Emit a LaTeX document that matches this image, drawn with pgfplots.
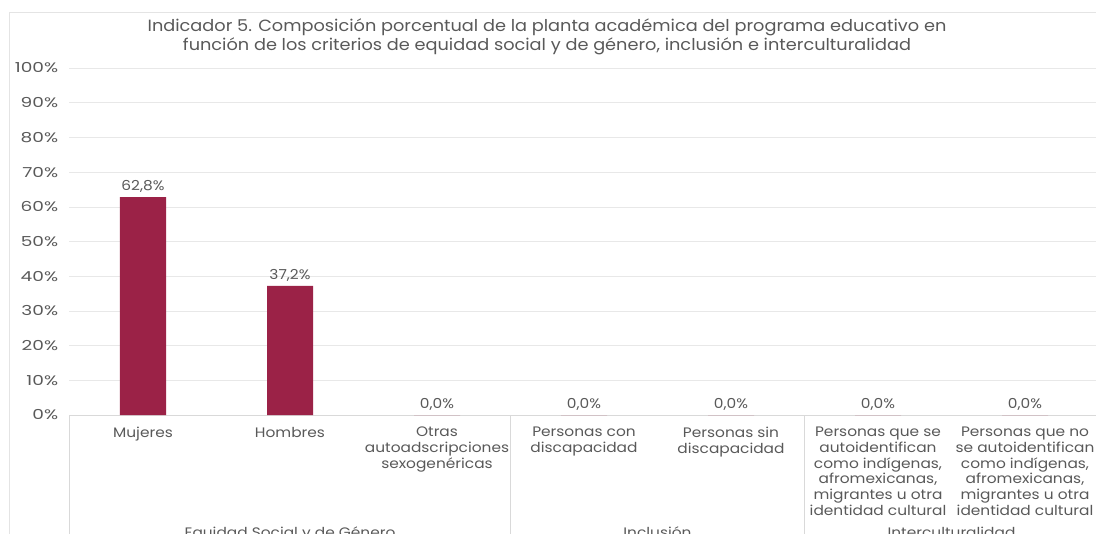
\documentclass[border=0pt]{standalone}
\usepackage{pgfplots}
\pgfplotsset{compat=1.18}
\usepackage{fontspec}
\setmainfont[FakeStretch=1.12]{Poppins}
\newfontfamily\wide[FakeStretch=1.35]{Poppins}
\newfontfamily\ttl[FakeStretch=1.09]{Poppins}
\definecolor{bar}{RGB}{155,34,71}
\definecolor{txt}{RGB}{89,89,89}
\definecolor{gridc}{RGB}{232,232,232}
\definecolor{sepc}{RGB}{217,217,217}
\begin{document}
\begin{tikzpicture}
\useasboundingbox (0pt,0pt) rectangle (822pt,399.75pt);
\clip (0pt,0pt) rectangle (822pt,399.75pt);
\draw[sepc!70] (6.75pt,-20pt) -- (6.75pt,390.75pt) -- (840pt,390.75pt);
\node[font=\ttl\fontsize{12.2}{14}\selectfont, text=txt] at (410.25pt,379.5pt) {Indicador 5. Composición porcentual de la planta académica del programa educativo en};
\node[font=\ttl\fontsize{12.2}{14}\selectfont, text=txt] at (410.25pt,365.25pt) {función de los criterios de equidad social y de género, inclusión e interculturalidad};
\begin{axis}[
  at={(52.125pt,88.5pt)}, anchor=south west,
  scale only axis, width=771.75pt, height=260.25pt,
  xmin=-0.5, xmax=6.5, ymin=0, ymax=100,
  clip=false,
  axis x line*=bottom, axis y line*=left,
  y axis line style={draw=none},
  x axis line style={sepc},
  major tick length=0,
  ytick={0,10,...,100},
  yticklabel={\pgfmathprintnumber{\tick}\%},
  /pgf/number format/assume math mode=true,
  ymajorgrids, grid style={gridc},
  yticklabel style={font=\wide\fontsize{10.3}{12}\selectfont, text=txt, xshift=-5pt},
  xtick={0,...,6},
  xticklabels={Mujeres, Hombres, {Otras\\autoadscripciones\\sexogenéricas}, {Personas con\\discapacidad}, {Personas sin\\discapacidad}, {Personas que se\\autoidentifican\\como indígenas,\\afromexicanas,\\migrantes u otra\\identidad cultural}, {Personas que no\\se autoidentifican\\como indígenas,\\afromexicanas,\\migrantes u otra\\identidad cultural}},
  xticklabel style={font=\fontsize{10.3}{11.8}\selectfont, text=txt, align=center, yshift=-5.5pt},
  ybar, bar width=34.5pt,
  nodes near coords,
  point meta=explicit symbolic,
  nodes near coords style={font=\fontsize{10.3}{12}\selectfont, text=txt, yshift=0pt},
]
\addplot[fill=bar, draw=none] coordinates {
(0,62.8) [62,8\%]
(1,37.2) [37,2\%]
(2,0) [0,0\%]
(3,0) [0,0\%]
(4,0) [0,0\%]
(5,0) [0,0\%]
(6,0) [0,0\%]
};
\draw[sepc] (axis cs:-0.5,0) -- ([yshift=-150pt]axis cs:-0.5,0);
\draw[sepc] (axis cs:2.5,0) -- ([yshift=-150pt]axis cs:2.5,0);
\draw[sepc] (axis cs:4.5,0) -- ([yshift=-150pt]axis cs:4.5,0);
\draw[sepc] (axis cs:6.5,0) -- ([yshift=-150pt]axis cs:6.5,0);
\node[font=\fontsize{10.3}{12}\selectfont, text=txt, anchor=north] at ([yshift=-80.5pt]axis cs:1,0) {Equidad Social y de Género};
\node[font=\fontsize{10.3}{12}\selectfont, text=txt, anchor=north] at ([yshift=-80.5pt]axis cs:3.5,0) {Inclusión};
\node[font=\fontsize{10.3}{12}\selectfont, text=txt, anchor=north] at ([yshift=-80.5pt]axis cs:5.5,0) {Interculturalidad};
\end{axis}
\end{tikzpicture}
\end{document}
